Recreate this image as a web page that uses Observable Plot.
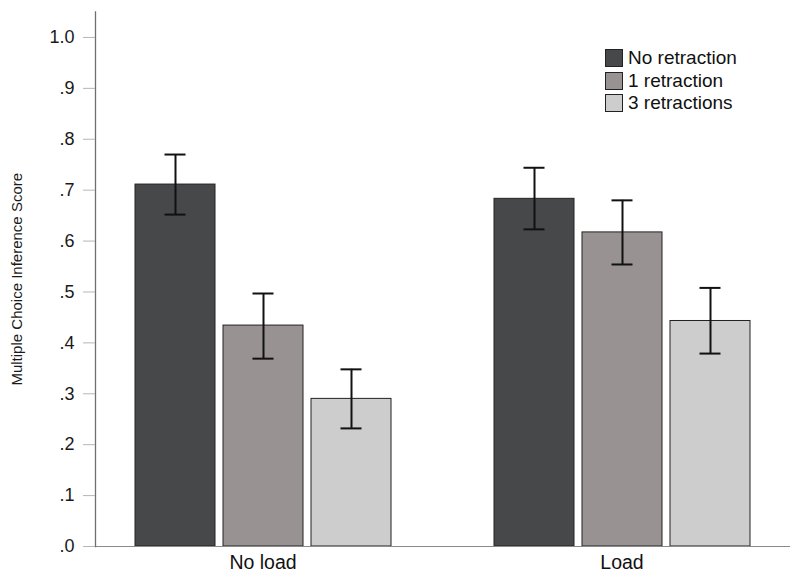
<!DOCTYPE html>
<html>
<head>
<meta charset="utf-8">
<script src="https://cdn.jsdelivr.net/npm/d3@7"></script>
<script src="https://cdn.jsdelivr.net/npm/@observablehq/plot@0.6"></script>
<style>
  html, body { margin: 0; padding: 0; background: #fff; }
  #wrap { position: relative; width: 800px; height: 582px; font-family: Arial, "Liberation Sans", sans-serif; }
  #legend { position: absolute; left: 605px; top: 47px; }
  .row { display: flex; align-items: center; height: 22.5px; font-size: 19px; color: #111; }
  .sw { width: 16px; height: 16px; border: 1px solid #222; margin-right: 5px; box-sizing: content-box; }
</style>
</head>
<body>
<div id="wrap"></div>
<script>
const loads = ["No load", "Load"];
const series = ["No retraction", "1 retraction", "3 retractions"];
const colors = ["#47484a", "#989392", "#cdcdcd"];
// means per load condition, in series order
const noLoadMeans = [0.711, 0.434, 0.290];
const loadMeans = [0.683, 0.617, 0.443];
const noLoadLower = [0.652, 0.369, 0.232];
const noLoadUpper = [0.770, 0.497, 0.348];
const loadLower = [0.623, 0.554, 0.379];
const loadUpper = [0.744, 0.680, 0.508];
const yTickValues = [0, 0.1, 0.2, 0.3, 0.4, 0.5, 0.6, 0.7, 0.8, 0.9, 1.0];
const yTickLabels = [".0", ".1", ".2", ".3", ".4", ".5", ".6", ".7", ".8", ".9", "1.0"];
const yLabel = "Multiple Choice Inference Score";

const data = [];
series.forEach((s, i) => {
  data.push({load: loads[0], series: s, value: noLoadMeans[i], lo: noLoadLower[i], hi: noLoadUpper[i]});
  data.push({load: loads[1], series: s, value: loadMeans[i], lo: loadLower[i], hi: loadUpper[i]});
});

const font = "Arial, 'Liberation Sans', sans-serif";
const chart = Plot.plot({
  width: 800,
  height: 582,
  marginLeft: 94,
  marginRight: 11,
  marginTop: 11.5,
  marginBottom: 36,
  style: {fontFamily: font, background: "#fff"},
  fx: {domain: loads, paddingInner: 0.068, paddingOuter: 0},
  x: {domain: series, paddingInner: 0.094, paddingOuter: 0.444, axis: null},
  y: {domain: [0, 1.05]},
  color: {domain: series, range: colors},
  marks: [
    Plot.barY(data, {fx: "load", x: "series", y: "value", fill: "series", stroke: "#222", strokeWidth: 1}),
    Plot.ruleX(data, {fx: "load", x: "series", y1: "lo", y2: "hi", stroke: "#111", strokeWidth: 2}),
    Plot.tickY(data, {fx: "load", x: "series", y: "hi", stroke: "#111", strokeWidth: 2, inset: 29.5}),
    Plot.tickY(data, {fx: "load", x: "series", y: "lo", stroke: "#111", strokeWidth: 2, inset: 29.5}),
    Plot.frame({anchor: "bottom", facet: "super", stroke: "#8a8a8a", strokeWidth: 1}),
    Plot.frame({anchor: "left", facet: "super", stroke: "#6f6f6f", strokeWidth: 1.3}),
    Plot.axisY({
      ticks: yTickValues,
      tickFormat: (d) => yTickLabels[yTickValues.findIndex(v => Math.abs(v - d) < 1e-9)],
      tickSize: 12,
      tickPadding: 9,
      stroke: "#b5b5b5",
      fill: "#1a1a1a",
      fontSize: 18,
      label: yLabel,
      labelAnchor: "center",
      labelOffset: 84,
      labelArrow: false
    }),
    Plot.axisFx({anchor: "bottom", tickSize: 0, tickPadding: 9, fontSize: 19.5, fill: "#111", label: null})
  ]
});

const wrap = document.getElementById("wrap");
wrap.appendChild(chart);
// y label font size
chart.querySelectorAll("text").forEach(t => {
  if (t.textContent === yLabel) t.setAttribute("font-size", 15);
});

const legend = document.createElement("div");
legend.id = "legend";
series.forEach((s, i) => {
  const row = document.createElement("div");
  row.className = "row";
  const sw = document.createElement("div");
  sw.className = "sw";
  sw.style.background = colors[i];
  const label = document.createElement("span");
  label.textContent = s;
  row.appendChild(sw);
  row.appendChild(label);
  legend.appendChild(row);
});
wrap.appendChild(legend);
</script>
</body>
</html>
